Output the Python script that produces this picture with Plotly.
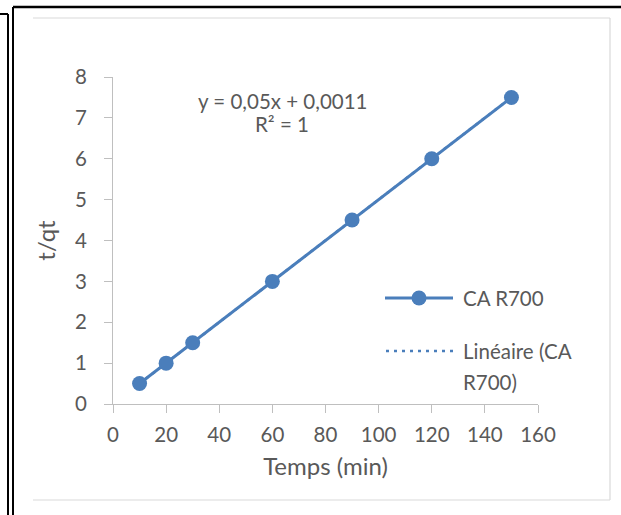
import plotly.graph_objects as go

temps = [10, 20, 30, 60, 90, 120, 150]
t_qt = [0.5, 1.0, 1.5, 3.0, 4.5, 6.0, 7.5]
slope = 0.05
intercept = 0.0011
series_name = "CA R700"
trend_lines = ["Linéaire (CA", "R700)"]
x_title = "Temps (min)"
y_title = "t/qt"
eq_line = "y = 0,05x + 0,0011"
r2_line = "R² = 1"

W, H = 621, 515
L, R, T, B = 113, 538, 77, 404
BLUE = "#4A7EBB"
GRAY_TXT = "#595959"
FONT = "Lato"
FS = 20.5

def px(x):
    return (x - L) / (R - L)

def py(y):
    return (B - y) / (B - T)

trend_x = [min(temps), max(temps)]
trend_y = [slope * v + intercept for v in trend_x]

fig = go.Figure()
fig.add_trace(go.Scatter(x=trend_x, y=trend_y, mode="lines", name="Linéaire (CA R700)",
                         line=dict(color=BLUE, width=2.5, dash="3px,5px"), showlegend=False))
fig.add_trace(go.Scatter(x=temps, y=t_qt, mode="lines+markers", name=series_name,
                         line=dict(color=BLUE, width=3),
                         marker=dict(size=15, color=BLUE), showlegend=False))

shapes = []

def pline(x0, y0, x1, y1, color, width, dash=None):
    ln = dict(color=color, width=width)
    if dash:
        ln["dash"] = dash
    shapes.append(dict(type="line", xref="paper", yref="paper",
                       x0=px(x0), y0=py(y0), x1=px(x1), y1=py(y1), line=ln))

# document frame lines
pline(8, 14, 8, 515, "black", 2)
pline(0, 14, 8, 14, "black", 2)
pline(13, 7, 13, 515, "black", 2)
pline(13, 7, 621, 7, "black", 2.5)
pline(33, 18, 610, 18, "#D9D9D9", 1.2)
pline(610, 18, 610, 500, "#D9D9D9", 1.2)
pline(33, 500, 610, 500, "#D9D9D9", 1.2)

# legend samples
pline(385, 298, 453, 298, BLUE, 3)
shapes.append(dict(type="circle", xref="paper", yref="paper",
                   x0=px(411.5), y0=py(305.5), x1=px(426.5), y1=py(290.5),
                   fillcolor=BLUE, line=dict(color=BLUE, width=0)))
pline(386, 351, 454, 351, BLUE, 2.5, dash="3px,5px")

def txt(s, x, y, anchor="left", size=FS):
    return dict(text=s, xref="paper", yref="paper", x=px(x), y=py(y),
                xanchor=anchor, yanchor="middle", showarrow=False,
                font=dict(family=FONT, size=size, color=GRAY_TXT))

annotations = [
    txt(eq_line, 282, 101, "center"),
    txt(r2_line, 282, 124, "center"),
    txt(series_name, 461, 298),
    txt(trend_lines[0], 461, 351),
    txt(trend_lines[1], 461, 382),
]

fig.update_layout(
    width=W, height=H,
    margin=dict(l=L, r=W - R, t=T, b=H - B, pad=0),
    paper_bgcolor="white", plot_bgcolor="white",
    shapes=shapes, annotations=annotations,
    font=dict(family=FONT, size=FS, color=GRAY_TXT),
)
axis_common = dict(showgrid=False, zeroline=False,
                   showline=True, linecolor="#BFBFBF", linewidth=1.2,
                   ticks="outside", ticklen=8, tickcolor="#BFBFBF", tickwidth=1.2,
                   tickfont=dict(family=FONT, size=FS, color=GRAY_TXT))
fig.update_xaxes(range=[0, 160], dtick=20, tick0=0, ticklabelstandoff=4,
                 title=dict(text=x_title, font=dict(family=FONT, size=24, color=GRAY_TXT), standoff=13),
                 **axis_common)
fig.update_yaxes(range=[0, 8], dtick=1, tick0=0, ticklabelstandoff=13,
                 title=dict(text=y_title, font=dict(family=FONT, size=24, color=GRAY_TXT), standoff=12),
                 **axis_common)

fig.write_html("out.html")
